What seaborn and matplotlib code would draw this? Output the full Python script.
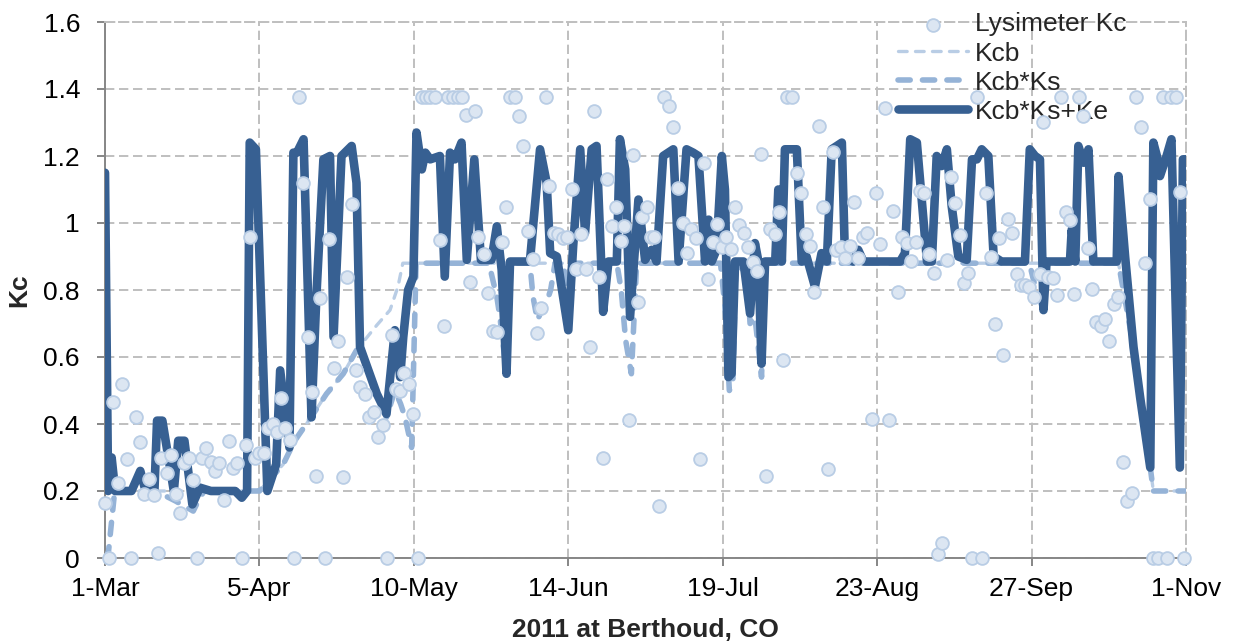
import numpy as np
import matplotlib
matplotlib.use("Agg")
import matplotlib.pyplot as plt
import seaborn as sns
from matplotlib.ticker import FuncFormatter

# ---------------- data (day 0 = 1-Mar-2011) ----------------
x_tick_days = [0, 35, 70, 105, 140, 175, 210, 245]
x_tick_labels = ["1-Mar", "5-Apr", "10-May", "14-Jun", "19-Jul", "23-Aug", "27-Sep", "1-Nov"]
y_ticks = [0, 0.2, 0.4, 0.6, 0.8, 1.0, 1.2, 1.4, 1.6]

lys_day = [0, 0.9, 1.9, 2.9, 3.9, 4.9, 6, 7, 7.9, 8.9, 10, 11, 12.1, 12.8, 14, 15, 16, 17, 17.9, 19,
           19.9, 20.9, 21.9, 22.9, 24, 24.9, 25.9, 27, 28, 28.9, 30, 31, 32, 32.9, 34, 34.9, 36, 36.9, 38, 38.9,
           39.9, 40.9, 41.9, 42.8,
           44, 44.8, 45.9, 46.9, 47.8, 48.7, 49.9, 50.8, 51.9, 52.9, 53.9, 54.9, 55.9, 56.9, 57.8, 58.9, 59.9, 61,
           61.8, 62.9, 63.8, 65, 66, 66.8, 67.8, 68.9, 69.9, 70.9, 71.8, 72.7, 73.7, 74.7, 75.9, 76.9, 77.8, 78.8,
           79.9, 80.8, 81.8, 82.7, 83.9, 84.6,
           85.9, 86.9, 87.9, 88.9, 89.9, 90.9, 91.9, 92.9, 93.8, 94.8, 95.8, 96.9, 97.8, 98.8, 99.9, 100.7, 101.8,
           102.7, 103.9, 104.8, 105.9, 106.8, 107.9, 109, 109.9, 110.8, 112, 112.8, 113.7, 114.8, 115.8, 116.9,
           117.7, 118.8, 119.7, 120.9, 121.6, 122.8, 123.7, 124.5, 125.6,
           126.7, 127.9, 128.8, 129.9, 130.9, 131.8, 132.8, 133.9, 134.9, 135.8, 136.7, 137.7, 138.7, 139.8, 140.8,
           141.8, 142.8, 143.7, 144.8, 145.8, 146.8, 147.8, 148.7, 149.7, 150.7, 151.9, 152.8, 153.7, 154.6, 155.6,
           156.8, 157.7, 158.8, 159.8, 160.8, 161.8, 162.7, 163.8, 164.9,
           165.6, 166.7, 167.8, 168.8, 169.7, 170.7, 171.7, 172.8, 173.8, 174.7, 175.7, 176.8, 177.7, 178.7, 179.7,
           180.7, 181.7, 182.7, 183.7, 184.7, 185.7, 186.8, 187.8, 188.7, 189.8, 190.8, 191.7, 192.6, 193.8, 194.7,
           195.7, 196.6, 197.6, 198.7, 199.7, 200.7, 201.6, 202.6, 203.6, 204.7, 205.6, 206.6, 207.5,
           208.5, 209.5, 210.6, 211.8, 212.7, 213.7, 214.8, 215.7, 216.7, 217.7, 218.7, 219.7, 220.8, 221.7, 222.7,
           223.6, 224.5, 225.7, 226.6, 227.6, 228.7, 229.7, 230.7, 231.6, 232.7, 233.7, 234.7, 235.7, 236.9, 237.6,
           238.7, 239.7, 240.8, 241.7, 242.7, 243.6, 244.6]
lys_kc = [0.163, 0.0, 0.467, 0.225, 0.52, 0.295, 0.0, 0.42, 0.347, 0.19, 0.235, 0.188, 0.015, 0.298, 0.255,
          0.307, 0.19, 0.133, 0.283, 0.298, 0.233, 0.0, 0.3, 0.327, 0.288, 0.26, 0.285, 0.173, 0.35, 0.27, 0.285,
          0.0, 0.337, 0.957, 0.298, 0.314, 0.313, 0.389, 0.4, 0.375, 0.479, 0.387, 0.352, 0.0,
          1.375, 1.118, 0.66, 0.495, 0.245, 0.775, 0.0, 0.951, 0.566, 0.649, 0.241, 0.84, 1.057, 0.561, 0.51,
          0.489, 0.422, 0.437, 0.362, 0.397, 0.0, 0.666, 0.504, 0.498, 0.553, 0.518, 0.429, 0.0, 1.375, 1.375,
          1.375, 1.375, 0.949, 0.693, 1.375, 1.375, 1.375, 1.375, 1.322, 0.823, 1.334, 0.959,
          0.906, 0.79, 0.678, 0.674, 0.944, 1.047, 1.375, 1.375, 1.319, 1.231, 0.976, 0.893, 0.673, 0.745, 1.375,
          1.11, 0.969, 0.966, 0.954, 0.957, 1.1, 0.862, 0.966, 0.862, 0.629, 1.335, 0.838, 0.3, 1.13, 0.992,
          1.047, 0.947, 0.992, 0.412, 1.203, 0.765, 1.017, 1.047, 0.959, 0.959, 0.156,
          1.375, 1.349, 1.287, 1.105, 0.999, 0.911, 0.981, 0.954, 0.295, 1.178, 0.832, 0.942, 0.997, 0.929, 0.959,
          0.922, 1.049, 0.994, 0.969, 0.927, 0.885, 0.857, 1.205, 0.246, 0.981, 0.966, 1.032, 0.591, 1.375, 1.375,
          1.15, 1.089, 0.966, 0.931, 0.795, 1.29, 1.047, 0.265, 1.213,
          0.919, 0.929, 0.895, 0.932, 1.062, 0.895, 0.959, 0.969, 0.414, 1.089, 0.937, 1.342, 0.412, 1.036, 0.795,
          0.959, 0.939, 0.888, 0.944, 1.096, 1.089, 0.907, 0.852, 0.011, 0.046, 0.89, 1.138, 1.059, 0.964, 0.82,
          0.85, 0.0, 1.375, 0.0, 1.089, 0.9, 0.698, 0.954, 0.606, 1.011, 0.969, 0.848, 0.815,
          0.815, 0.808, 0.778, 0.848, 1.302, 0.838, 0.835, 0.785, 1.375, 1.034, 1.009, 0.787, 1.375, 1.319, 0.924,
          0.803, 0.704, 0.694, 0.712, 0.649, 0.758, 0.78, 0.287, 0.171, 0.193, 1.375, 1.287, 0.88, 1.071, 0.0,
          0.0, 1.375, 0.0, 1.375, 1.375, 1.094, 0.0]

kcb_day = [0, 35, 40.4, 43, 47.2, 50.2, 54, 57, 61.6, 64.6, 66.4, 67.5, 229.7, 233.1, 234.6, 236.9, 237.6, 245]
kcb_val = [0.2, 0.2, 0.28, 0.35, 0.43, 0.49, 0.55, 0.62, 0.695, 0.74, 0.81, 0.88, 0.88, 0.63, 0.48, 0.27, 0.2, 0.2]

kcbks_day = [0, 0.8, 2.2, 11.5, 13, 16, 20, 21.5, 22.5, 35, 40.4, 43, 47.2, 50.2, 54, 57, 58.5, 61.6, 63.8, 65.7,
             67, 68, 69.5, 70.5, 87, 88.8, 89.5, 91, 91.8, 96.3, 97, 98, 99, 100, 101, 102, 104, 105, 106, 112,
             112.9, 114, 116, 117, 118, 119.3, 120.5, 139.5, 140.5, 141.5, 142.3, 143, 145.5, 146.2, 147.3, 148.8,
             149.6, 209.5, 211, 212.7, 213.4, 229.7, 233.1, 234.6, 236.9, 237.6, 245]
kcbks_val = [0, 0.02, 0.2, 0.2, 0.19, 0.17, 0.14, 0.18, 0.2, 0.2, 0.28, 0.35, 0.43, 0.49, 0.55, 0.62, 0.6, 0.48,
             0.42, 0.5, 0.46, 0.42, 0.33, 0.88, 0.88, 0.78, 0.72, 0.55, 0.88, 0.88, 0.78, 0.71, 0.74, 0.76, 0.8,
             0.88, 0.88, 0.68, 0.88, 0.88, 0.73, 0.88, 0.88, 0.8, 0.65, 0.55, 0.88, 0.88, 0.75, 0.5, 0.52, 0.88,
             0.85, 0.7, 0.72, 0.54, 0.88, 0.88, 0.8, 0.74, 0.88, 0.88, 0.63, 0.48, 0.27, 0.2, 0.2]

kc_day = [0, 0.7, 1.5, 2.3, 6, 8, 9.2, 11.2, 11.8, 13, 15.6, 16.6, 18, 19.8, 21.5, 24, 29.5, 31, 32.2, 32.8,
          34.2, 36.8, 38.8, 39.7, 41.8, 42.7, 43.5, 45, 46.8, 47.9, 49.5, 51, 51.8, 53.6, 55.9, 57, 57.8, 61.6,
          63.8, 65.7, 66.9, 67.6, 68.7, 69.9, 70.6, 71.8, 72.6, 73.7, 75.9, 77, 78.2, 79.3, 80.8, 82, 83.7, 85.2,
          87.6, 88.8, 89.9, 91, 91.8, 96.3, 98.6, 100.1, 100.9, 102.4, 105, 106.1, 107.7, 108.8, 110.3, 111.4,
          112.9, 114.1, 116, 116.7, 117.9, 119, 120.9, 122.4, 123.9, 125, 126.5, 128.8, 130, 131.8, 133.3, 134.5,
          136, 136.8, 137.5, 138.6, 139.8, 140.5, 141.3, 142, 142.8, 144.7, 146.2, 147.3, 148.1, 148.8, 149.6,
          151.9, 152.6, 153.4, 154.1, 156.8, 157.9, 159, 160.9, 162.4, 163.6, 164.7, 167, 167.7, 169.6, 170.7,
          171.9, 180.2, 181.3, 182.5, 184, 186.3, 187.4, 188.5, 189.6, 190.8, 191.9, 193.4, 195.3, 196.5, 197.6,
          198.7, 200.2, 201.4, 203.2, 208.5, 209.6, 210.8, 211.9, 212.7, 213.4, 218.7, 219.1, 219.9, 220.6, 221.8,
          222.9, 224, 229.3, 229.7, 231.2, 233.1, 234.6, 236.9, 237.6, 238.4, 239.1, 240.6, 241.7, 243.6, 244.3, 245]
kc_val = [1.15, 0.2, 0.30, 0.2, 0.2, 0.26, 0.2, 0.2, 0.41, 0.41, 0.2, 0.35, 0.35, 0.16, 0.21, 0.2, 0.2, 0.18, 0.2,
          1.24, 1.22, 0.2, 0.28, 0.56, 0.33, 1.21, 1.21, 1.25, 0.42, 0.78, 1.19, 1.2, 0.66, 1.2, 1.23, 1.12, 0.63,
          0.49, 0.43, 0.68, 0.54, 0.66, 0.8, 0.84, 1.27, 1.16, 1.21, 1.19, 1.2, 0.84, 1.21, 1.19, 1.24, 0.89, 1.19,
          0.89, 0.89, 0.99, 0.86, 0.55, 0.885, 0.885, 1.22, 1.12, 0.91, 0.9, 0.68, 0.93, 1.22, 0.97, 1.22, 1.23,
          0.735, 0.885, 0.885, 1.25, 1.16, 0.72, 1.07, 0.89, 0.92, 0.885, 1.2, 1.22, 0.885, 1.22, 1.21, 1.2, 0.885,
          1.01, 0.885, 0.92, 1.2, 1.1, 0.54, 0.55, 0.885, 0.885, 0.73, 0.94, 0.885, 0.58, 0.885, 0.885, 1.1, 0.885,
          1.22, 1.22, 0.885, 0.9, 0.81, 0.91, 0.885, 1.22, 1.24, 0.9, 0.885, 0.92, 0.885, 0.885, 0.91, 1.25, 1.24,
          0.885, 0.885, 1.2, 1.17, 1.22, 1.05, 0.9, 0.89, 1.19, 1.19, 1.22, 1.2, 0.9, 0.885, 0.885, 1.22, 1.2, 1.19,
          0.74, 0.885, 0.885, 0.98, 0.885, 1.23, 1.18, 1.22, 0.885, 0.885, 1.14, 0.9, 0.63, 0.48, 0.27, 1.24, 1.2,
          1.14, 1.2, 1.25, 0.27, 1.19, 1.19]

# ---------------- styling ----------------
sns.set_style("white")
plt.rcParams['font.family'] = ['Liberation Sans', 'DejaVu Sans']

W, H = 1236, 642
fig = plt.figure(figsize=(W / 100, H / 100), dpi=100)
L, R, T, B = 105, 1186, 22, 558
ax = fig.add_axes([L / W, 1 - B / H, (R - L) / W, (B - T) / H])

grid_col = '#bfbfbf'
grid_ls = (0, (4.8, 2.4))

sns.lineplot(x=kcb_day, y=kcb_val, ax=ax, color='#b9cde5', lw=2.4, linestyle=(0, (2.6, 2.5)),
             dash_capstyle='round', estimator=None, label='Kcb', zorder=3, legend=False)
sns.lineplot(x=kcbks_day, y=kcbks_val, ax=ax, color='#95b3d7', lw=4.0, linestyle=(0, (2.2, 2.2)),
             dash_capstyle='round', estimator=None, label='Kcb*Ks', zorder=4, legend=False)
sns.lineplot(x=kc_day, y=kc_val, ax=ax, color='#376092', lw=6.2, solid_capstyle='round',
             solid_joinstyle='round', estimator=None, label='Kcb*Ks+Ke', zorder=5, legend=False)
sns.scatterplot(x=lys_day, y=lys_kc, ax=ax, s=85, color='#dce6f2', edgecolor='#b9cde5', linewidth=1.3,
                zorder=6, clip_on=False, label='Lysimeter Kc', legend=False)

ax.set_xlim(0, 245)
ax.set_ylim(0, 1.6)
ax.set_xticks(x_tick_days)
ax.set_xticklabels(x_tick_labels)
ax.set_yticks(y_ticks)
ax.yaxis.set_major_formatter(FuncFormatter(lambda v, p: f"{v:g}"))

ax.grid(True, color=grid_col, lw=1.4, linestyle=grid_ls)
ax.set_axisbelow(True)
for s in ['left', 'bottom']:
    ax.spines[s].set_color('#868686')
    ax.spines[s].set_linewidth(1.4)
    ax.spines[s].set_zorder(2.5)
for s in ['top', 'right']:
    ax.spines[s].set_color(grid_col)
    ax.spines[s].set_linewidth(1.4)
    ax.spines[s].set_linestyle(grid_ls)

ax.tick_params(axis='both', which='major', bottom=True, left=True, direction='out', length=6,
               width=1.4, color='#868686', labelsize=19, labelcolor='black')
ax.tick_params(axis='y', pad=12)
ax.tick_params(axis='x', pad=8)

ax.set_xlabel("2011 at Berthoud, CO", fontsize=19, fontweight='bold')
ax.set_ylabel("Kc", fontsize=19, fontweight='bold')
ax.xaxis.set_label_coords(0.5, -(618 - B) / (B - T))
ax.yaxis.set_label_coords((31 - L) / (R - L), 0.5)

h, l = ax.get_legend_handles_labels()
hd = dict(zip(l, h))
order = ['Lysimeter Kc', 'Kcb', 'Kcb*Ks', 'Kcb*Ks+Ke']
leg = ax.legend([hd[k] for k in order], order, loc='upper left',
                bbox_to_anchor=(898 / W, 1 - 12.5 / H), bbox_transform=fig.transFigure,
                frameon=False, fontsize=19, handlelength=2.65, handletextpad=0.27,
                labelspacing=0.19, borderpad=0, borderaxespad=0)

fig.savefig("out.png", dpi=100)
